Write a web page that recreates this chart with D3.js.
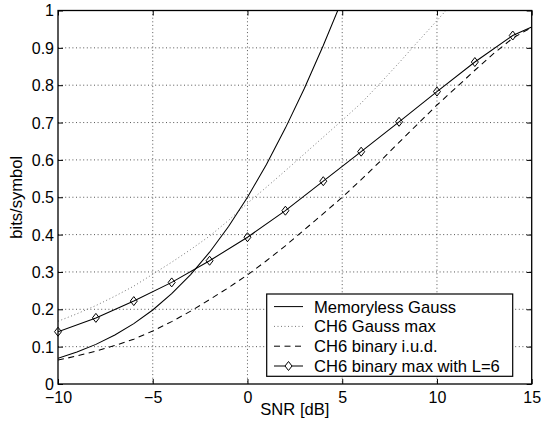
<!DOCTYPE html>
<html><head><meta charset="utf-8">
<script src="https://cdn.jsdelivr.net/npm/d3@7"></script>
<style>
body{margin:0;background:#fff;}
svg{display:block;font-family:"Liberation Sans",Arial,Helvetica,sans-serif;}
</style></head>
<body><svg id="c" width="541" height="428"></svg>
<script>
// ---- data ----
const gaussSNR = [-10,-9,-8,-7,-6,-5,-4,-3,-2,-1,0,1,2,3,4,5];
const gaussVal = [0.0688,0.0855,0.1061,0.1312,0.1617,0.1982,0.2418,0.2930,0.3529,0.4217,0.5,0.5878,0.6851,0.7913,0.9061,1.029];

const gmaxSNR = [-10,-9,-8,-7,-6,-5,-4,-3,-2,-1,0,1,2,3,4,5,6,7,8,9,10,11];
const gmaxVal = [0.168,0.188,0.21,0.235,0.262,0.294,0.326,0.36,0.396,0.438,0.484,0.527,0.571,0.616,0.661,0.706,0.752,0.805,0.86,0.917,0.973,1.03];

const iudSNR = [-10,-9,-8,-7,-6,-5,-4,-3,-2,-1,0,1,2,3,4,5,6,7,8,9,10,11,12,13,14,15];
const iudVal = [0.064,0.075,0.088,0.103,0.12,0.142,0.167,0.195,0.226,0.258,0.292,0.33,0.37,0.413,0.456,0.5,0.547,0.596,0.647,0.697,0.747,0.793,0.84,0.885,0.926,0.955];

const bmaxSNR = [-10,-8,-6,-4,-2,0,2,4,6,8,10,12,14,15];
const bmaxVal = [0.14,0.177,0.222,0.272,0.33,0.393,0.464,0.543,0.622,0.702,0.783,0.862,0.933,0.956];

const xTicks = [-10,-5,0,5,10,15];
const yTicks = [0,0.1,0.2,0.3,0.4,0.5,0.6,0.7,0.8,0.9,1];
const legendLabels = ["Memoryless Gauss","CH6 Gauss max","CH6 binary i.u.d.","CH6 binary max with L=6"];
const xLabel = "SNR [dB]";
const yLabel = "bits/symbol";

// ---- layout ----
const L = 58, R = 531.7, T = 10.5, B = 384;
const FS = "16.6px", TFS = "16px";
const svg = d3.select("#c");
const x = d3.scaleLinear().domain([-10,15]).range([L,R]);
const y = d3.scaleLinear().domain([0,1]).range([B,T]);
const fmtX = d => d < 0 ? "\u2212" + Math.abs(d) : String(d);

svg.append("rect").attr("x",0).attr("y",0).attr("width",541).attr("height",428).attr("fill","#fff");

// grid
const grid = svg.append("g").attr("stroke","#444").attr("stroke-width",0.9).attr("stroke-dasharray","1,2.6");
grid.selectAll("line.gx").data(xTicks.slice(1,-1)).enter().append("line")
  .attr("x1",d=>x(d)).attr("x2",d=>x(d)).attr("y1",T).attr("y2",B);
grid.selectAll("line.gy").data(yTicks.slice(1,-1)).enter().append("line")
  .attr("y1",d=>y(d)).attr("y2",d=>y(d)).attr("x1",L).attr("x2",R);

// axes with inward ticks
const ax = d3.axisBottom(x).tickValues(xTicks).tickFormat(fmtX).tickSizeInner(-5).tickSizeOuter(0).tickPadding(7);
const ay = d3.axisLeft(y).tickValues(yTicks).tickFormat(d3.format("~g")).tickSizeInner(-5).tickSizeOuter(0).tickPadding(4);
const gx = svg.append("g").attr("transform",`translate(0,${B})`).call(ax);
const gy = svg.append("g").attr("transform",`translate(${L},0)`).call(ay);
const gxt = svg.append("g").attr("transform",`translate(0,${T})`).call(d3.axisTop(x).tickValues(xTicks).tickFormat("").tickSizeInner(-5).tickSizeOuter(0));
const gyr = svg.append("g").attr("transform",`translate(${R},0)`).call(d3.axisRight(y).tickValues(yTicks).tickFormat("").tickSizeInner(-5).tickSizeOuter(0));
[gx,gy,gxt,gyr].forEach(g=>{
  g.select(".domain").remove();
  g.selectAll("line").attr("stroke","#000").attr("stroke-width",1);
  g.selectAll("text").attr("fill","#000").attr("font-size",TFS).attr("font-family",null);
});
gx.selectAll("text").attr("dy","0.72em");
gy.selectAll("text").attr("dy","0.34em");

// clip
svg.append("clipPath").attr("id","clip").append("rect")
  .attr("x",L).attr("y",T).attr("width",R-L).attr("height",B-T);

const plot = svg.append("g").attr("clip-path","url(#clip)");
const line = d3.line().x(d=>x(d[0])).y(d=>y(d[1]));
const zip = (a,b)=>a.map((v,i)=>[v,b[i]]);

plot.append("path").datum(zip(gmaxSNR,gmaxVal)).attr("d",line)
  .attr("fill","none").attr("stroke","#777").attr("stroke-width",1).attr("stroke-dasharray","1,2.5");
plot.append("path").datum(zip(iudSNR,iudVal)).attr("d",line)
  .attr("fill","none").attr("stroke","#000").attr("stroke-width",1.05).attr("stroke-dasharray","6,4.5");
plot.append("path").datum(zip(gaussSNR,gaussVal)).attr("d",line)
  .attr("fill","none").attr("stroke","#000").attr("stroke-width",1.05);
plot.append("path").datum(zip(bmaxSNR,bmaxVal)).attr("d",line)
  .attr("fill","none").attr("stroke","#000").attr("stroke-width",1.05);

const diamond = (cx,cy)=>`M${cx},${cy-4.5}L${cx+3.5},${cy}L${cx},${cy+4.5}L${cx-3.5},${cy}Z`;
svg.append("g").selectAll("path").data(zip(bmaxSNR,bmaxVal).filter(d=>d[0]%2===0)).enter().append("path")
  .attr("d",d=>diamond(x(d[0]),y(d[1]))).attr("fill","none").attr("stroke","#000").attr("stroke-width",1);

// frame
svg.append("rect").attr("x",L).attr("y",T).attr("width",R-L).attr("height",B-T)
  .attr("fill","none").attr("stroke","#000").attr("stroke-width",1.3);

// axis labels
svg.append("text").attr("x",(L+R)/2).attr("y",415).attr("text-anchor","middle")
  .attr("font-size",FS).text(xLabel);
svg.append("text").attr("transform",`translate(22,${(T+B)/2}) rotate(-90)`).attr("text-anchor","middle")
  .attr("font-size",FS).text(yLabel);

// legend
const lg = svg.append("g");
const lx0 = 266.7, ly0 = 294, lw = 246, lh = 82.3;
lg.append("rect").attr("x",lx0).attr("y",ly0).attr("width",lw).attr("height",lh)
  .attr("fill","#fff").attr("stroke","#000").attr("stroke-width",1.2);
const styles = [
  {stroke:"#000",dash:null},
  {stroke:"#777",dash:"1,2.5"},
  {stroke:"#000",dash:"6,4.5"},
  {stroke:"#000",dash:null,marker:true}
];
legendLabels.forEach((lab,i)=>{
  const cy = 306.6 + i*19.8;
  const s = styles[i];
  const ln = lg.append("line").attr("x1",274).attr("x2",303).attr("y1",cy).attr("y2",cy)
    .attr("stroke",s.stroke).attr("stroke-width",1);
  if (s.dash) ln.attr("stroke-dasharray",s.dash);
  if (s.marker) lg.append("path").attr("d",diamond(288.5,cy)).attr("fill","#fff").attr("stroke","#000");
  lg.append("text").attr("x",314).attr("y",cy+6).attr("font-size",FS).text(lab);
});
</script></body></html>
